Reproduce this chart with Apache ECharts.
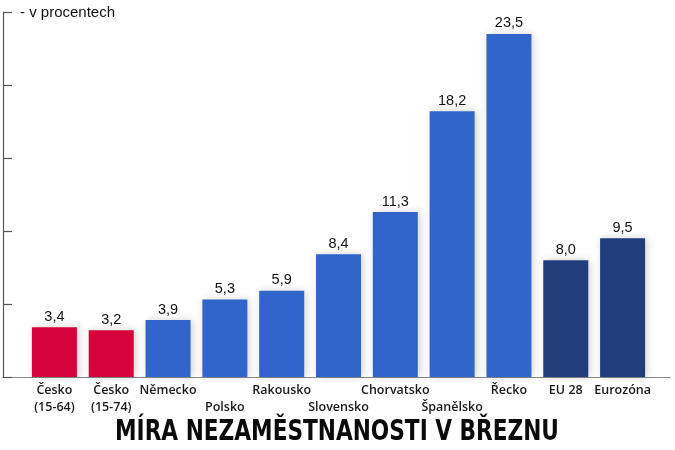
<!DOCTYPE html>
<html>
<head>
<meta charset="utf-8">
<script src="https://cdn.jsdelivr.net/npm/echarts@6/dist/echarts.min.js"></script>
<style>
html, body { margin: 0; padding: 0; background: #fff; }
#chart { width: 675px; height: 450px; }
</style>
</head>
<body>
<div id="chart"></div>
<script>
var myChart = echarts.init(document.getElementById('chart'));

// data
let categories = [
	"Česko\n(15-64)", "Česko\n(15-74)", "Německo", "Polsko", "Rakousko",
	"Slovensko", "Chorvatsko", "Španělsko", "Řecko", "EU 28", "Eurozóna"
];
let values = [3.4, 3.2, 3.9, 5.3, 5.9, 8.4, 11.3, 18.2, 23.5, 8.0, 9.5];
let yTicks = [0, 5, 10, 15, 20, 25];
// labels drawn on the second row
let lowered = ["Polsko", "Slovensko", "Španělsko"];

let colorCz = "#d4043a";
let colorEu = "#3265cb";
let colorAvg = "#1f3e7a";

const barColor = (i) => {
	if (i < 2) return colorCz;
	if (i >= categories.length - 2) return colorAvg;
	return colorEu;
};

const fmt = (v) => v.toFixed(1).replace('.', ',');

option = {
	animation: false,
	backgroundColor: '#fff',
	graphic: [{
		type: 'text',
		left: 20,
		top: 5,
		style: {
			text: '- v procentech',
			fontFamily: 'Liberation Sans, Arial',
			fontSize: 15,
			fill: '#111'
		}
	}, {
		type: 'text',
		x: 337,
		y: 419,
		scaleX: 0.86,
		originX: 0,
		style: {
			text: 'MÍRA NEZAMĚSTNANOSTI V BŘEZNU',
			textAlign: 'center',
			fontFamily: 'DejaVu Sans Condensed, DejaVu Sans, Arial',
			fontWeight: 'bold',
			fontSize: 28,
			fill: '#0a0a0a',
			stroke: '#fff',
			lineWidth: 2,
			shadowColor: 'rgba(0,0,0,0.35)',
			shadowBlur: 3,
			shadowOffsetX: 1,
			shadowOffsetY: 1
		}
	}],
	grid: [{
		left: 26,
		right: 24,
		top: 12,
		bottom: 73
	}, {
		left: 3,
		right: 5,
		top: 12,
		bottom: 73
	}],
	xAxis: [{
		type: 'category',
		gridIndex: 0,
		data: categories,
		axisLine: { show: false },
		axisTick: { show: false },
		axisLabel: {
			interval: 0,
			margin: 5,
			color: '#1a1a1a',
			fontFamily: 'Open Sans',
			fontWeight: 600,
			fontSize: 12.5,
			lineHeight: 17,
			formatter: function(name) {
				return lowered.indexOf(name) >= 0 ? '\n' + name : name;
			}
		}
	}, {
		type: 'value',
		gridIndex: 1,
		min: 0,
		max: 1,
		axisLine: { show: true, lineStyle: { color: '#8a8a8a', width: 1.2 } },
		axisTick: { show: false },
		axisLabel: { show: false },
		splitLine: { show: false }
	}],
	yAxis: [{
		type: 'value',
		gridIndex: 0,
		min: yTicks[0],
		max: yTicks[yTicks.length - 1],
		interval: 5,
		show: false
	}, {
		type: 'value',
		gridIndex: 1,
		min: yTicks[0],
		max: yTicks[yTicks.length - 1],
		interval: 5,
		axisLine: { show: true, lineStyle: { color: '#555', width: 1.2 } },
		axisTick: { show: true, inside: true, length: 9, lineStyle: { color: '#555', width: 1.2 } },
		axisLabel: { show: false },
		splitLine: { show: false }
	}],
	series: [{
		type: 'bar',
		xAxisIndex: 0,
		yAxisIndex: 0,
		barWidth: 45,
		data: values.map((v, i) => ({
			value: v,
			itemStyle: { color: barColor(i) }
		})),
		itemStyle: {
			shadowColor: 'rgba(0,0,0,0.18)',
			shadowBlur: 8,
			shadowOffsetX: 2,
			shadowOffsetY: 0
		},
		label: {
			show: true,
			position: 'top',
			distance: 3,
			color: '#111',
			fontFamily: 'Liberation Sans, Arial',
			fontSize: 14.5,
			formatter: (p) => fmt(p.value)
		}
	}]
};
myChart.setOption(option);
</script>
</body>
</html>
